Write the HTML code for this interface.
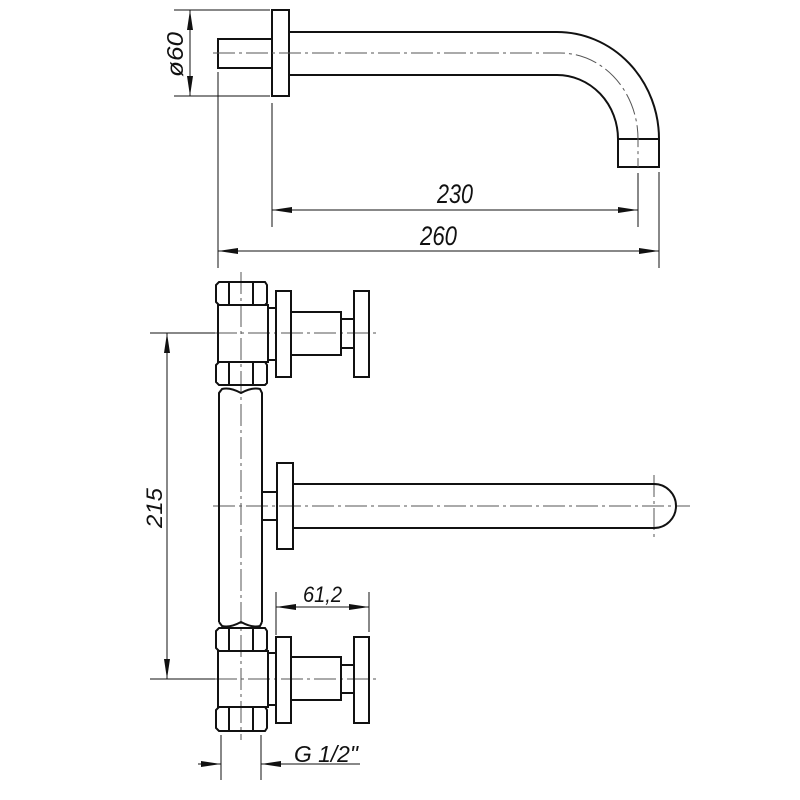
<!DOCTYPE html>
<html><head><meta charset="utf-8"><style>
html,body{margin:0;padding:0;background:#fff;width:800px;height:800px;overflow:hidden}
text{font-family:"Liberation Sans",sans-serif;font-style:italic;fill:#111}
</style></head><body>
<svg width="800" height="800" viewBox="0 0 800 800" xmlns="http://www.w3.org/2000/svg">
<defs>
<marker id="a" viewBox="0 0 20 6" refX="20" refY="3" markerWidth="20" markerHeight="6" markerUnits="userSpaceOnUse" orient="auto-start-reverse"><path d="M0,0 L20,3 L0,6 Z" fill="#111"/></marker>
</defs>
<g fill="none" stroke="#111" stroke-width="2">
<rect x="218" y="39" width="54" height="29"/>
<rect x="272" y="10" width="17" height="86"/>
<path d="M289,32 H557 A102,107 0 0 1 659,139 V167 H618 V139 A61,64 0 0 0 557,75 H289"/>
<line x1="618" y1="139" x2="659" y2="139"/>
</g>
<g fill="none" stroke="#555" stroke-width="1" stroke-dasharray="22,4,3,4">
<path d="M213,53 H560 A78,86 0 0 1 638,139 V167"/>
<line x1="241" y1="272" x2="241" y2="740"/>
<line x1="215" y1="333" x2="380" y2="333"/>
<line x1="215" y1="679" x2="380" y2="679"/>
<line x1="213" y1="506" x2="690" y2="506"/>
<line x1="654" y1="475" x2="654" y2="537"/>
</g>
<g fill="none" stroke="#111" stroke-width="1">
<line x1="174" y1="10" x2="270" y2="10"/>
<line x1="174" y1="96" x2="270" y2="96"/>
<line x1="190" y1="10" x2="190" y2="96" marker-start="url(#a)" marker-end="url(#a)"/>
<line x1="272" y1="103" x2="272" y2="227"/>
<line x1="638" y1="173" x2="638" y2="227"/>
<line x1="272" y1="210" x2="638" y2="210" marker-start="url(#a)" marker-end="url(#a)"/>
<line x1="218" y1="72" x2="218" y2="268"/>
<line x1="659" y1="172" x2="659" y2="268"/>
<line x1="218" y1="251" x2="659" y2="251" marker-start="url(#a)" marker-end="url(#a)"/>
<line x1="150" y1="333" x2="215" y2="333"/>
<line x1="150" y1="679" x2="215" y2="679"/>
<line x1="167" y1="333" x2="167" y2="679" marker-start="url(#a)" marker-end="url(#a)"/>
<line x1="276" y1="592" x2="276" y2="635"/>
<line x1="369" y1="592" x2="369" y2="632"/>
<line x1="276" y1="607" x2="369" y2="607" marker-start="url(#a)" marker-end="url(#a)"/>
<line x1="221" y1="735" x2="221" y2="780"/>
<line x1="261" y1="735" x2="261" y2="780"/>
<line x1="198" y1="764" x2="221" y2="764" marker-end="url(#a)"/>
<line x1="360" y1="764" x2="261" y2="764" marker-end="url(#a)"/>
</g>
<g fill="none" stroke="#111" stroke-width="2">
<path d="M219,282 H265 L267,285 V303 L265,305 H219 L216,302 V285 Z"/>
<line x1="229" y1="282" x2="229" y2="305"/><line x1="253" y1="282" x2="253" y2="305"/>
<rect x="218" y="305" width="50" height="57"/>
<path d="M219,362 H265 L267,365 V383 L265,385 H219 L216,382 V365 Z"/>
<line x1="229" y1="362" x2="229" y2="385"/><line x1="253" y1="362" x2="253" y2="385"/>
<rect x="268" y="308" width="8" height="52"/>
<rect x="276" y="291" width="15" height="86"/>
<rect x="291" y="312" width="50" height="43"/>
<rect x="341" y="319" width="13" height="29"/>
<rect x="354" y="291" width="15" height="86"/>
<path d="M219,622 V393 L222,389 Q230,387 241,393 Q252,387 260,389 L262,393 V622"/>
<path d="M219,622 L222,626 Q230,628 241,622 Q252,628 260,626 L262,622"/>
<rect x="262" y="492" width="15" height="28"/>
<rect x="277" y="463" width="16" height="86"/>
<path d="M293,484 H654 A22,22 0 0 1 654,528 H293"/>
<path d="M219,628 H265 L267,631 V649 L265,651 H219 L216,648 V631 Z"/>
<line x1="229" y1="628" x2="229" y2="651"/><line x1="253" y1="628" x2="253" y2="651"/>
<rect x="218" y="651" width="50" height="56"/>
<path d="M219,707 H265 L267,710 V728 L265,731 H219 L216,728 V710 Z"/>
<line x1="229" y1="707" x2="229" y2="731"/><line x1="253" y1="707" x2="253" y2="731"/>
<rect x="268" y="653" width="8" height="52"/>
<rect x="276" y="637" width="15" height="86"/>
<rect x="291" y="657" width="50" height="43"/>
<rect x="341" y="665" width="13" height="28"/>
<rect x="354" y="637" width="15" height="86"/>
</g>
<text x="437" y="203" font-size="27" textLength="36" lengthAdjust="spacingAndGlyphs">230</text>
<text x="420" y="245" font-size="27" textLength="37" lengthAdjust="spacingAndGlyphs">260</text>
<text transform="translate(183,77) rotate(-90)" font-size="23" textLength="45" lengthAdjust="spacingAndGlyphs">ø60</text>
<text transform="translate(162,528) rotate(-90)" font-size="22" textLength="40" lengthAdjust="spacingAndGlyphs">215</text>
<text x="303" y="602" font-size="22" textLength="39" lengthAdjust="spacingAndGlyphs">61,2</text>
<text x="294" y="762" font-size="23" textLength="64" lengthAdjust="spacingAndGlyphs">G 1/2"</text>
</svg>
</body></html>
